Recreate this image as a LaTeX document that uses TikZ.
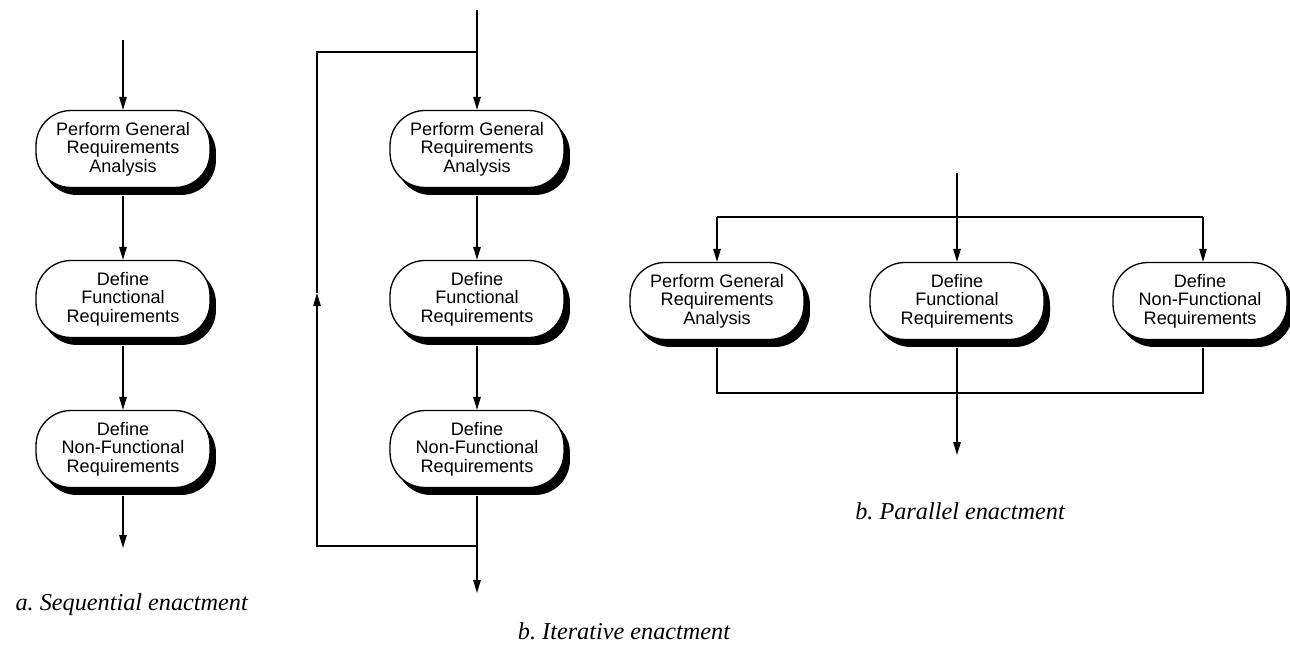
\documentclass[tikz,border=0pt]{standalone}
\usepackage{fontspec}
\setmainfont{Liberation Serif}
\setsansfont{Liberation Sans}
\usetikzlibrary{arrows.meta,shadows}
\frenchspacing
\begin{document}
\begin{tikzpicture}[x=0.02cm,y=-0.02cm,
  every path/.style={line width=0.75pt},
  activity/.style={draw, fill=white, rounded corners=0.7cm,
    minimum width=3.48cm, minimum height=1.54cm, inner sep=0pt,
    align=center, font=\sffamily\fontsize{10.3}{10.6}\selectfont,
    drop shadow={shadow xshift=0.12cm, shadow yshift=-0.15cm, fill=black, opacity=1}},
  flow/.style={-{Triangle[length=0.26cm,width=0.15cm]}},
  caption/.style={font=\itshape\fontsize{13.8}{16}\selectfont}]
\useasboundingbox (0,0) rectangle (1290,649);

% a. sequential enactment
\coordinate (sIn) at (123,40);
\node[activity] (s1) at (123,149) {Perform General\\Requirements\\Analysis};
\node[activity] (s2) at (123,299) {Define\\Functional\\Requirements};
\node[activity] (s3) at (123,449) {Define\\Non-Functional\\Requirements};
\coordinate (sOut) at (123,548);
\draw[flow] (sIn) -- (s1);
\draw[flow] ([yshift=-0.15cm]s1.south) -- (s2);
\draw[flow] ([yshift=-0.15cm]s2.south) -- (s3);
\draw[flow] ([yshift=-0.15cm]s3.south) -- (sOut);
\node[caption, anchor=west] (capA) at (9,605) {a. Sequential enactment};

% b. iterative enactment
\coordinate (iIn) at (477,10);
\coordinate (iTop) at (477,52);
\coordinate (iTopL) at (317,52);
\coordinate (iUp) at (317,293);
\coordinate (iBotL) at (317,546);
\coordinate (iBot) at (477,546);
\coordinate (iOut) at (477,593);
\node[activity] (i1) at (477,149) {Perform General\\Requirements\\Analysis};
\node[activity] (i2) at (477,299) {Define\\Functional\\Requirements};
\node[activity] (i3) at (477,449) {Define\\Non-Functional\\Requirements};
\draw[flow] (iIn) -- (i1);
\draw[flow] ([yshift=-0.15cm]i1.south) -- (i2);
\draw[flow] ([yshift=-0.15cm]i2.south) -- (i3);
\draw[flow] ([yshift=-0.15cm]i3.south) -- (iOut);
\draw[flow] (iBot) -- (iBotL) -- (iUp);
\draw (iUp) -- (iTopL) -- (iTop);
\node[caption] (capB) at (624,631) {b. Iterative enactment};

% b. parallel enactment
\coordinate (pIn) at (957,173);
\coordinate (pSplitL) at (717,217);
\coordinate (pSplitR) at (1203,217);
\coordinate (pJoinL) at (717,393);
\coordinate (pJoinR) at (1203,393);
\coordinate (pOut) at (957,455);
\node[activity] (p1) at (717,301) {Perform General\\Requirements\\Analysis};
\node[activity] (p2) at (957,301) {Define\\Functional\\Requirements};
\node[activity] (p3) at (1200,301) {Define\\Non-Functional\\Requirements};
\draw[flow] (pIn) -- (p2);
\draw (pSplitL) -- (pSplitR);
\draw[flow] (pSplitL) -- (p1);
\draw[flow] (pSplitR) -- (pSplitR |- p3.north);
\draw ([yshift=-0.15cm]p1.south) -- (pJoinL) -- (pJoinR)
  -- ([yshift=-0.15cm]pJoinR |- p3.south);
\draw[flow] ([yshift=-0.15cm]p2.south) -- (pOut);
\node[caption] (capC) at (960,511) {b. Parallel enactment};
\end{tikzpicture}
\end{document}
